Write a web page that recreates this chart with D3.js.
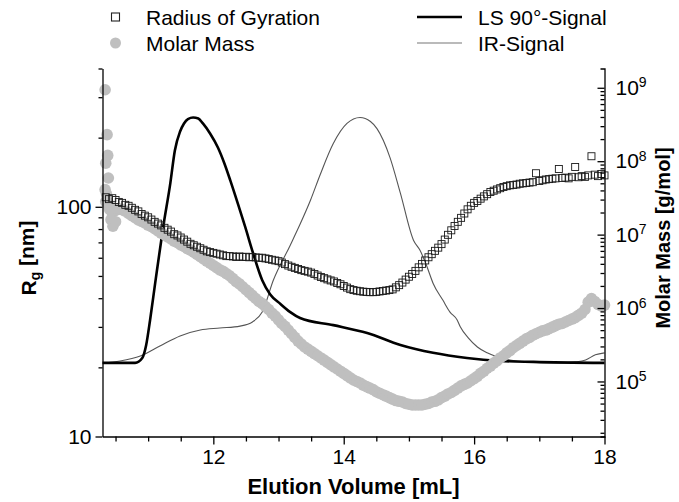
<!DOCTYPE html>
<html>
<head>
<meta charset="utf-8">
<script src="https://cdn.jsdelivr.net/npm/d3@7"></script>
<style>
  body { margin: 0; background: #fff; }
  svg { display: block; }
  text { font-family: "Liberation Sans", Arial, Helvetica, sans-serif; fill: #000; }
</style>
</head>
<body>
<svg id="chart" width="679" height="502"></svg>
<script>
// ---------------- data ----------------
// sample grid of elution volumes (mL) for the light-scattering evaluation
const volumeStart = 10.35;
const volumeStep = 0.05;

// Radius of gyration [nm] at each grid volume
const radiusOfGyration = [
  110,108,109,107,105,104,102,101,99,97,
  95.5,93,91.5,90,88,86,84.5,83,81,79.5,
  78,76,75,73.5,72,70.5,69,68,67,66,
  65,64,63.5,63,62.5,62,61.5,61,61,60.8,
  60.5,60.8,60.5,60.6,60.3,60.5,60.2,60,60,59.6,
  59.2,58.8,58.4,58,57.2,56.3,55.5,54.8,54.2,53.6,
  53,52.6,52.2,51.7,51,50.2,49.5,48.9,48.3,47.8,
  47.3,46.6,46,45.2,44.5,43.8,43.4,43.1,42.9,42.7,
  42.6,42.5,42.5,42.6,42.8,43,43.2,43.4,43.7,44.6,
  45.6,46.8,48.2,49.6,51,52.6,54.5,56.4,58.4,60.3,
  62.2,64.3,66.4,68.8,72,75.5,79,82.5,86,89.5,
  93.5,97.5,101,104,106,108.5,111,113.5,116,117.5,
  119,120.5,122,123,124,124.5,125,126,126.5,127,
  127.5,128,140,129.5,130.5,131.5,132,132.5,133,146,
  133.5,134,133,135,149,134.5,136,135,137,166,
  138,136,139,137
];

// log10 of molar mass [g/mol] at each grid volume
const molarMassLog10 = [
  7.45,7.38,7.30,7.33,7.35,7.34,7.32,7.29,7.26,7.23,
  7.20,7.18,7.16,7.13,7.11,7.08,7.05,7.02,7.00,6.97,
  6.94,6.91,6.89,6.86,6.84,6.81,6.79,6.76,6.73,6.70,
  6.67,6.64,6.61,6.58,6.55,6.52,6.50,6.47,6.44,6.40,
  6.36,6.33,6.29,6.25,6.21,6.17,6.13,6.09,6.06,6.02,
  5.98,5.93,5.89,5.84,5.79,5.75,5.70,5.65,5.60,5.55,
  5.51,5.47,5.44,5.41,5.38,5.35,5.32,5.29,5.26,5.23,
  5.20,5.17,5.14,5.11,5.08,5.05,5.02,5.00,4.98,4.95,
  4.93,4.91,4.89,4.86,4.84,4.82,4.80,4.78,4.76,4.74,
  4.73,4.72,4.70,4.69,4.68,4.68,4.68,4.68,4.69,4.70,
  4.72,4.73,4.75,4.78,4.80,4.83,4.85,4.88,4.91,4.94,
  4.96,4.98,5.01,5.04,5.07,5.11,5.14,5.18,5.21,5.25,
  5.28,5.32,5.35,5.39,5.42,5.46,5.49,5.52,5.55,5.58,
  5.60,5.63,5.65,5.67,5.69,5.70,5.72,5.74,5.76,5.78,
  5.79,5.81,5.83,5.85,5.87,5.90,5.93,5.98,6.08,6.13,
  6.09,6.05,6.03,6.04
];

// scattered molar-mass points at the very start of the run [mL, g/mol]
const molarMassEarly = [
  [10.34,9.4e8],[10.37,2.3e8],[10.38,1.2e8],[10.35,9.4e7],[10.39,5.9e7],
  [10.34,4.1e7],[10.36,3.6e7],[10.38,2.8e7],[10.41,2.2e7],[10.43,1.6e7],
  [10.46,1.3e7],[10.50,1.5e7]
];

// LS 90° detector signal (normalised) [mL, signal]
const lsSignal = [
  [10.30,0],[10.80,0],[10.91,0.02],[10.97,0.073],[11.03,0.175],[11.11,0.329],
  [11.23,0.553],[11.34,0.732],[11.41,0.866],[11.49,0.943],[11.55,0.976],
  [11.61,0.994],[11.69,1.0],[11.77,0.996],[11.84,0.976],[11.95,0.935],
  [12.07,0.878],[12.17,0.813],[12.26,0.744],[12.38,0.646],[12.49,0.553],
  [12.61,0.447],[12.75,0.337],[12.87,0.280],[13.03,0.240],[13.18,0.207],
  [13.33,0.183],[13.84,0.154],[14.36,0.122],[14.87,0.073],[15.37,0.041],
  [15.89,0.020],[16.40,0.008],[16.91,0.004],[18.00,0.0]
];

// IR detector signal (normalised) [mL, signal]
const irSignal = [
  [10.31,0],[10.57,0.008],[10.88,0.028],[11.18,0.069],[11.49,0.110],
  [11.80,0.134],[12.10,0.142],[12.41,0.150],[12.60,0.167],[12.75,0.207],
  [12.92,0.337],[13.18,0.480],[13.33,0.565],[13.49,0.663],[13.64,0.768],
  [13.84,0.894],[14.05,0.976],[14.25,1.0],[14.41,0.984],[14.51,0.955],
  [14.71,0.837],[14.87,0.691],[15.07,0.500],[15.17,0.459],[15.28,0.390],
  [15.37,0.325],[15.52,0.256],[15.63,0.207],[15.74,0.175],[15.79,0.146],
  [15.91,0.102],[16.05,0.065],[16.20,0.041],[16.36,0.024],[16.55,0.012],
  [16.78,0.004],[17.32,0],[17.55,0.004],[17.71,0.012],[17.86,0.033],[18.00,0.041]
];

// tick values
const xMajorTicks = [12, 14, 16, 18];
const xMinorTicks = [10.5, 11, 11.5, 12.5, 13, 13.5, 14.5, 15, 15.5, 16.5, 17, 17.5];
const rgMajorTicks = [10, 100];
const rgMinorTicks = [20, 30, 40, 50, 60, 70, 80, 90, 200, 300, 400];
const mmMajorTicks = [1e5, 1e6, 1e7, 1e8, 1e9];
const mmMinorMantissas = [2, 3, 4, 5, 6, 7, 8, 9];
const mmMinorDecades = [1e4, 1e5, 1e6, 1e7, 1e8];

// legend entries
const legendLeft = ["Radius of Gyration", "Molar Mass"];
const legendRight = ["LS 90°-Signal", "IR-Signal"];

// ---------------- layout ----------------
const plot = { left: 102.5, right: 604.5, top: 68.5, bottom: 436.5 };
const svg = d3.select("#chart");

const x = d3.scaleLinear().domain([10.3, 18]).range([plot.left, plot.right]);
const yRg = d3.scaleLog().domain([10, 400]).range([plot.bottom, plot.top]);
const yMM = d3.scaleLog().domain([1.78e4, 1.83e9]).range([plot.bottom, plot.top]);
const ySig = d3.scaleLinear().domain([-0.3, 1.2]).range([plot.bottom, plot.top]);

const volumes = radiusOfGyration.map((_, i) => +(volumeStart + i * volumeStep).toFixed(2));
const mmMinorTicks = mmMinorDecades.flatMap(d => mmMinorMantissas.map(m => m * d));

const grey = "#bfbfbf";

// ---------------- signal lines ----------------
const sigLine = d3.line().x(d => x(d[0])).y(d => ySig(d[1])).curve(d3.curveMonotoneX);

svg.append("path").datum(irSignal)
  .attr("d", sigLine).attr("fill", "none").attr("stroke", "#555").attr("stroke-width", 1.1);

svg.append("path").datum(lsSignal)
  .attr("d", sigLine).attr("fill", "none").attr("stroke", "#000").attr("stroke-width", 2.6);

// ---------------- molar mass (grey dots) ----------------
const mmPoints = molarMassLog10.map((v, i) => [volumes[i], Math.pow(10, v)]).concat(molarMassEarly);
svg.append("g").selectAll("circle").data(mmPoints).join("circle")
  .attr("cx", d => x(d[0])).attr("cy", d => yMM(d[1])).attr("r", 5.8)
  .attr("fill", grey);

// ---------------- radius of gyration (open squares) ----------------
const sq = 7;
svg.append("g").selectAll("rect").data(radiusOfGyration.map((v, i) => [volumes[i], v])).join("rect")
  .attr("x", d => x(d[0]) - sq / 2).attr("y", d => yRg(d[1]) - sq / 2)
  .attr("width", sq).attr("height", sq)
  .attr("fill", "none").attr("stroke", "#1a1a1a").attr("stroke-width", 0.9);

// ---------------- axes ----------------
function styleAxis(g) {
  g.selectAll("path, line").attr("stroke", "#000").attr("stroke-width", 1.3);
  g.selectAll("text").attr("font-size", "21px").attr("font-family", "'Liberation Sans', Arial, sans-serif");
}

// bottom
const gxMin = svg.append("g").attr("transform", `translate(0,${plot.bottom})`)
  .call(d3.axisBottom(x).tickValues(xMinorTicks).tickSize(5).tickFormat(""));
gxMin.select(".domain").remove();
styleAxis(gxMin);
const gx = svg.append("g").attr("transform", `translate(0,${plot.bottom})`)
  .call(d3.axisBottom(x).tickValues(xMajorTicks).tickSize(8).tickSizeOuter(0).tickPadding(5).tickFormat(d3.format("d")));
styleAxis(gx);

// left
const gyMin = svg.append("g").attr("transform", `translate(${plot.left},0)`)
  .call(d3.axisLeft(yRg).tickValues(rgMinorTicks).tickSize(4).tickFormat(""));
gyMin.select(".domain").remove();
styleAxis(gyMin);
const gy = svg.append("g").attr("transform", `translate(${plot.left},0)`)
  .call(d3.axisLeft(yRg).tickValues(rgMajorTicks).tickSize(7).tickSizeOuter(0).tickPadding(4).tickFormat(d3.format("d")));
styleAxis(gy);

// right
const grMin = svg.append("g").attr("transform", `translate(${plot.right},0)`)
  .call(d3.axisRight(yMM).tickValues(mmMinorTicks).tickSize(-4).tickFormat(""));
grMin.select(".domain").remove();
styleAxis(grMin);
const gr = svg.append("g").attr("transform", `translate(${plot.right},0)`)
  .call(d3.axisRight(yMM).tickValues(mmMajorTicks).tickSize(-7).tickSizeOuter(-4).tickPadding(11));
styleAxis(gr);
gr.selectAll(".tick text").each(function (d) {
  const t = d3.select(this);
  t.text(null);
  t.append("tspan").text("10");
  t.append("tspan").attr("dy", "-0.55em").attr("font-size", "14px").text(Math.round(Math.log10(d)));
});

// ---------------- axis titles ----------------
svg.append("text").attr("x", (plot.left + plot.right) / 2).attr("y", 494)
  .attr("text-anchor", "middle").attr("font-size", "22px").attr("font-weight", "bold")
  .text("Elution Volume [mL]");

const rgTitle = svg.append("text").attr("transform", "translate(36,258) rotate(-90)")
  .attr("text-anchor", "middle").attr("font-size", "21px").attr("font-weight", "bold");
rgTitle.append("tspan").text("R");
rgTitle.append("tspan").attr("dy", "0.3em").attr("font-size", "14px").text("g");
rgTitle.append("tspan").attr("dy", "-0.3em").text(" [nm]");

svg.append("text").attr("transform", "translate(670,238) rotate(-90)")
  .attr("text-anchor", "middle").attr("font-size", "20px").attr("font-weight", "bold")
  .text("Molar Mass [g/mol]");

// ---------------- legend ----------------
const legY = [17, 43];
const leg = svg.append("g");
leg.append("rect").attr("x", 115.5 - 4).attr("y", legY[0] - 4).attr("width", 8).attr("height", 8)
  .attr("fill", "none").attr("stroke", "#222").attr("stroke-width", 1.1);
leg.append("circle").attr("cx", 115.5).attr("cy", legY[1]).attr("r", 5.5).attr("fill", grey);
leg.append("line").attr("x1", 417).attr("x2", 462).attr("y1", legY[0]).attr("y2", legY[0])
  .attr("stroke", "#000").attr("stroke-width", 2.6);
leg.append("line").attr("x1", 417).attr("x2", 462).attr("y1", legY[1]).attr("y2", legY[1])
  .attr("stroke", "#777").attr("stroke-width", 1.1);
legendLeft.forEach((t, i) => leg.append("text").attr("x", 146).attr("y", legY[i] + 7.5)
  .attr("font-size", "21px").text(t));
legendRight.forEach((t, i) => leg.append("text").attr("x", 478).attr("y", legY[i] + 7.5)
  .attr("font-size", "21px").text(t));
</script>
</body>
</html>
